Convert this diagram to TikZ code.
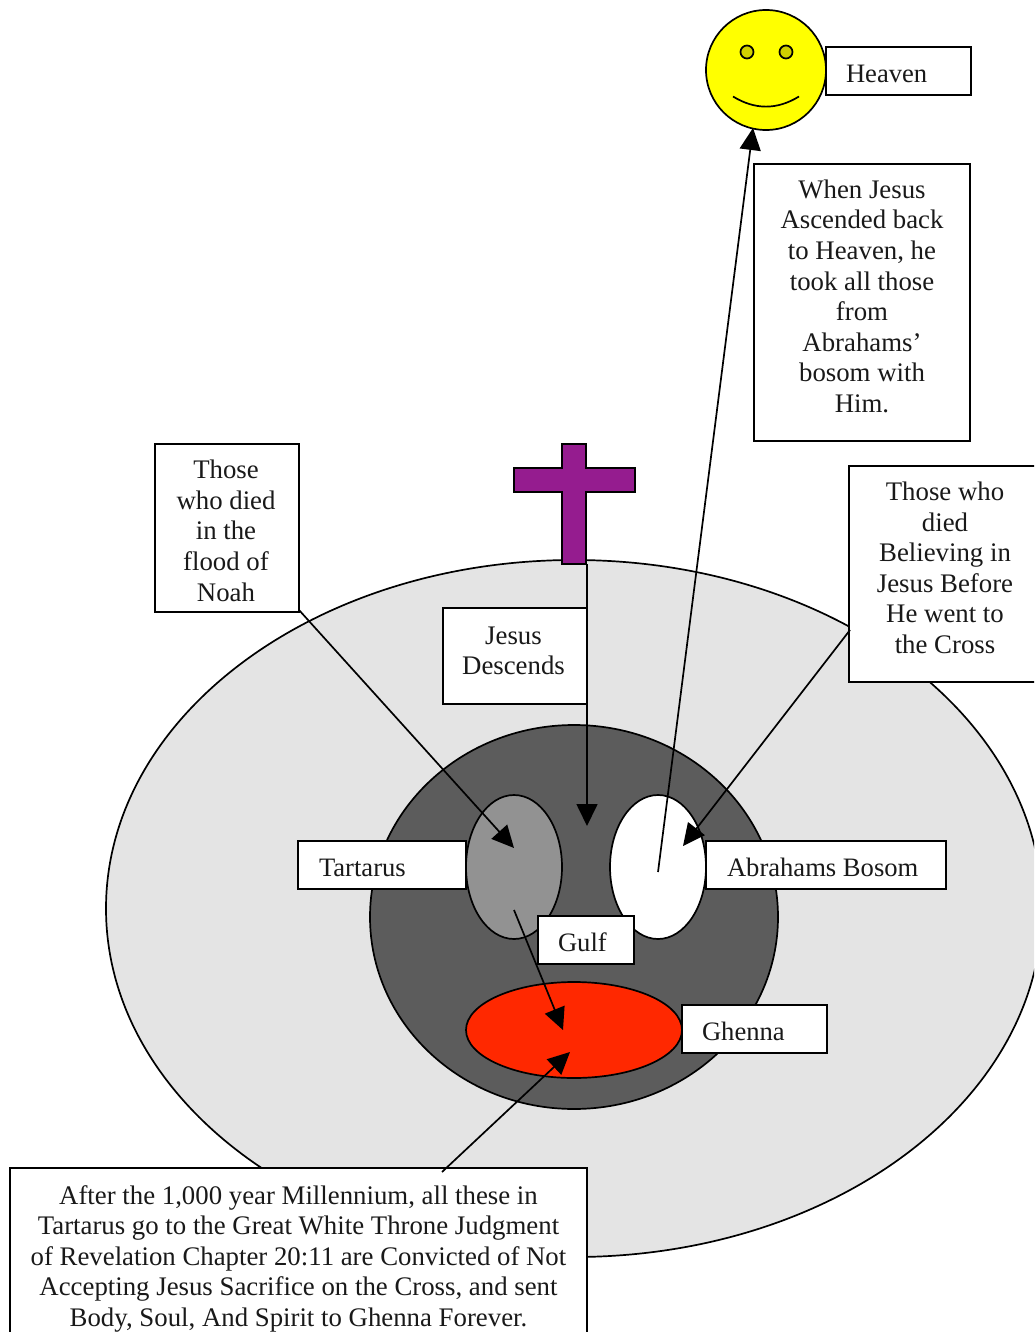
\documentclass[tikz,border=0pt]{standalone}
\usepackage{fontspec}
\setmainfont{Liberation Serif}
\usetikzlibrary{shapes.geometric,arrows.meta}
\definecolor{crossc}{RGB}{149,28,143}
\definecolor{eyec}{RGB}{208,208,0}
\definecolor{sunc}{RGB}{255,255,0}
\definecolor{hellc}{RGB}{255,40,0}
\definecolor{earthc}{RGB}{228,228,228}
\definecolor{pitc}{RGB}{92,92,92}
\definecolor{tartc}{RGB}{146,146,146}
% centred block: {width}{x offset}{y offset}{text}
\newcommand{\blk}[4]{\hspace*{#2}\raisebox{#3}[0pt][0pt]{\parbox{#1}{\centering #4}}}
\newcommand{\tagtxt}[2]{\makebox[#1][l]{#2}}
\tikzset{
  x=1pt,y=-1pt,
  lw/.style={line width=1.7pt,draw=black},
  blob/.style={lw,ellipse,inner sep=0pt,outer sep=0pt},
  box/.style={lw,fill=white,rectangle,inner xsep=0pt,inner ysep=0pt,outer sep=0pt,font=\fontsize{26.8}{30.6}\selectfont,text=black!90},
  tag/.style={box,text height=23pt,text depth=0pt,minimum height=48pt,inner xsep=20pt,font=\fontsize{26.6}{30.6}\selectfont},
  conn/.style={line width=1.7pt,black},
  tip/.style={-{Triangle[length=22pt,width=21pt]}},
}
\begin{document}
\begin{tikzpicture}
\useasboundingbox (0,0) rectangle (1034,1332);
\clip (0,0) rectangle (1034,1332);
\node[blob,fill=earthc,minimum width=936pt,minimum height=697pt] (earth) at (574,908.5) {};
\node[blob,fill=pitc,minimum width=408pt,minimum height=384pt] (pit) at (574,917) {};
\node[blob,fill=tartc,minimum width=96pt,minimum height=144pt] (tart) at (514,867) {};
\node[blob,fill=white,minimum width=96pt,minimum height=144pt] (bosom) at (658,867) {};
\node[blob,fill=hellc,minimum width=216pt,minimum height=96pt] (ghen) at (574,1030) {};
% face
\node[blob,fill=sunc,minimum width=120pt,minimum height=120pt] (face) at (766,70) {};
\node[blob,fill=eyec,minimum width=13pt,minimum height=13pt] (eyeL) at (747,52) {};
\node[blob,fill=eyec,minimum width=13pt,minimum height=13pt] (eyeR) at (786,52) {};
\draw[conn] (733,96.5) .. controls (755,110) and (777,110) .. (799,96.5);
% cross
\draw[lw,fill=crossc] (562,444) -- (586,444) -- (586,468) -- (635,468) -- (635,492) -- (586,492) -- (586,564) -- (562,564) -- (562,492) -- (514,492) -- (514,468) -- (562,468) -- cycle;
% boxes
\node[tag] (heaven) at (898.5,71) {\tagtxt{105pt}{Heaven}};
\node[box,minimum width=216pt,minimum height=277pt] (ascend) at (862,302.5) {\blk{200pt}{0pt}{0pt}{When Jesus\\Ascended back\\to Heaven, he\\took all those\\from\\Abrahams’\\bosom with\\Him.}};
\node[box,minimum width=192pt,minimum height=216pt] (died) at (945,574) {\blk{180pt}{0pt}{0pt}{Those who\\died\\Believing in\\Jesus Before\\He went to\\the Cross}};
\node[box,minimum width=144pt,minimum height=168pt] (noah) at (227,528) {\blk{130pt}{-2pt}{-9pt}{Those\\who died\\in the\\flood of\\Noah}};
\node[box,minimum width=144pt,minimum height=96pt] (desc) at (515,656) {\blk{130pt}{-3pt}{-1pt}{Jesus\\Descends}};
\node[tag] (tlab) at (382,865) {\hspace*{1pt}\tagtxt{127pt}{Tartarus}};
\node[tag] (alab) at (826,865) {\hspace*{1pt}\tagtxt{199pt}{Abrahams Bosom}};
\node[tag] (gulf) at (586,940) {\tagtxt{56pt}{Gulf}};
\node[tag] (glab) at (754.5,1029) {\tagtxt{105pt}{Ghenna}};
\node[box,minimum width=577pt,minimum height=178pt] (judge) at (298.5,1257) {\blk{570pt}{0pt}{-8pt}{After the 1,000 year Millennium, all these in\\Tartarus go to the Great White Throne Judgment\\of Revelation Chapter 20:11 are Convicted of Not\\Accepting Jesus Sacrifice on the Cross, and sent\\Body, Soul, And Spirit to Ghenna Forever.}};
% connectors
\coordinate (a1) at (658,872);
\coordinate (a2) at (753,128);
\coordinate (b1) at (587,564);
\coordinate (b2) at (587,826);
\coordinate (c1) at (299,610);
\coordinate (c2) at (514,848);
\coordinate (d1) at (850,630);
\coordinate (d2) at (683,846);
\coordinate (e1) at (514,910);
\coordinate (e2) at (563,1030);
\coordinate (f1) at (442,1172);
\coordinate (f2) at (570,1052);
\draw[conn,tip] (a1) -- (a2);
\draw[conn,tip] (b1) -- (b2);
\draw[conn,tip] (c1) -- (c2);
\draw[conn,tip] (d1) -- (d2);
\draw[conn,tip] (e1) -- (e2);
\draw[conn,tip] (f1) -- (f2);
\end{tikzpicture}
\end{document}
